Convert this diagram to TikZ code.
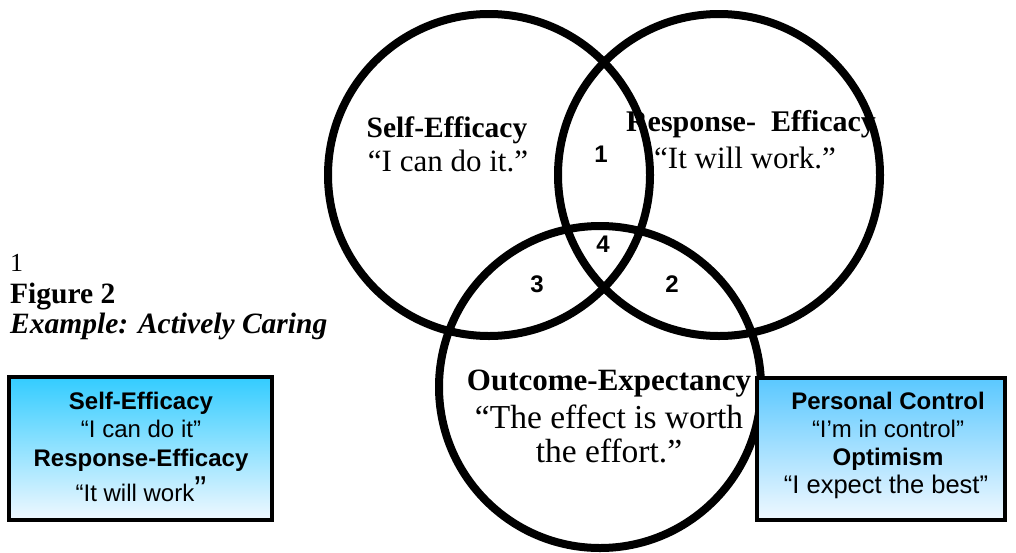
\documentclass[tikz,border=0pt]{standalone}
\usepackage{fontspec}
\setmainfont{Liberation Serif}
\setsansfont{Liberation Sans}
\definecolor{skytop}{RGB}{51,204,255}
\definecolor{skytopb}{RGB}{90,200,255}
\definecolor{skybot}{RGB}{240,248,255}
\tikzset{
  venn/.style={draw=black, line width=8pt},
  vhead/.style={font=\fontsize{30}{30}\selectfont\bfseries, anchor=base, inner sep=0pt},
  vquote/.style={font=\fontsize{31}{32}\selectfont, anchor=base, inner sep=0pt},
  vnum/.style={font=\fontsize{24}{24}\selectfont\sffamily\bfseries, anchor=base, inner sep=0pt},
  boxhead/.style={font=\fontsize{24}{24}\selectfont\sffamily\bfseries, anchor=base, inner sep=0pt},
  boxtext/.style={font=\fontsize{24}{24}\selectfont\sffamily, anchor=base, inner sep=0pt},
  captext/.style={anchor=base west, inner sep=0pt},
  infobox/.style={draw=black, line width=3.5pt, top color=skytop, bottom color=skybot},
}
\begin{document}
\begin{tikzpicture}[x=1pt,y=-1pt]
\useasboundingbox (0,0) rectangle (1016,552);
% circles
\draw[venn] (489,175) circle[radius=161];
\draw[venn] (719,175) circle[radius=161];
\draw[venn] (600,387) circle[radius=161];
% circle texts
\node[vhead, font=\fontsize{29.5}{30}\selectfont\bfseries] (seh) at (447,137) {Self-Efficacy};
\node[vquote] (seq) at (448,171) {“I can do it.”};
\node[vhead] (reh) at (751,131) {Response-\ \ Efficacy};
\node[vquote] (req) at (745,168) {“It will work.”};
\node[vhead, font=\fontsize{31}{31}\selectfont\bfseries] (oeh) at (609,390) {Outcome-Expectancy};
\node[vquote, font=\fontsize{33.5}{34}\selectfont] (oeq1) at (609,428) {“The effect is worth};
\node[vquote, font=\fontsize{33.5}{34}\selectfont] (oeq2) at (609,462) {the effort.”};
% numbers
\node[vnum] (n1) at (601,162) {1};
\node[vnum] (n4) at (603,252) {4};
\node[vnum] (n3) at (537,292) {3};
\node[vnum] (n2) at (672,292) {2};
% caption
\node[captext, font=\fontsize{26}{26}\selectfont] (c0) at (10,271) {1};
\node[captext, font=\fontsize{29.5}{30}\selectfont\bfseries] (c1) at (10,303) {Figure 2};
\node[captext, font=\fontsize{29.5}{30}\selectfont\bfseries\itshape] (c2) at (10,333) {Example: Actively Caring};
% left box
\path[infobox] (9,377) rectangle (272,520);
\node[boxhead] (l1) at (141,409) {Self-Efficacy};
\node[boxtext] (l2) at (141,437) {“I can do it”};
\node[boxhead] (l3) at (141,466) {Response-Efficacy};
\node[boxtext] (l4) at (141,501) {“It will work{\fontsize{36}{36}\selectfont ”}};
% right box
\path[infobox, top color=skytopb] (757,378) rectangle (1005,520);
\node[boxhead] (r1) at (888,409) {Personal Control};
\node[boxtext] (r2) at (888,437) {“I’m in control”};
\node[boxhead] (r3) at (888,465) {Optimism};
\node[boxtext, font=\fontsize{25.5}{26}\selectfont\sffamily] (r4) at (886,493) {“I expect the best”};
\end{tikzpicture}
\end{document}
